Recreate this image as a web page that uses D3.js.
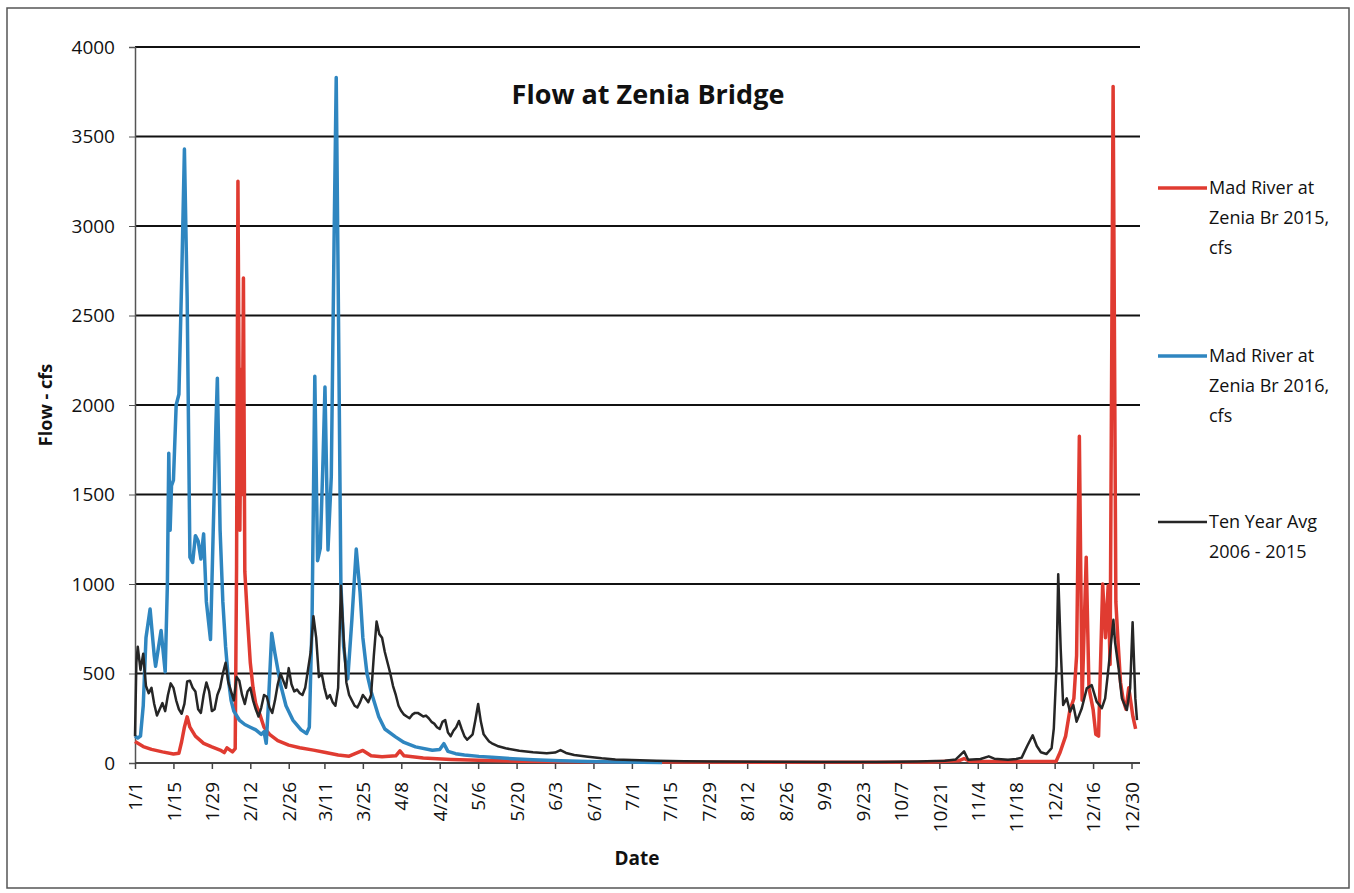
<!DOCTYPE html>
<html>
<head>
<meta charset="utf-8">
<script src="https://cdn.jsdelivr.net/npm/d3@7"></script>
<style>
body { margin: 0; background: #fff; }
text { font-family: "Open Sans", sans-serif; fill: #111; }
</style>
</head>
<body>
<svg id="chart" width="1354" height="893"></svg>
<script>
// axis labels
const tickLabels = ['1/1','1/15','1/29','2/12','2/26','3/11','3/25','4/8','4/22','5/6','5/20','6/3','6/17',
  '7/1','7/15','7/29','8/12','8/26','9/9','9/23','10/7','10/21','11/4','11/18','12/2','12/16','12/30'];
const yTicks = [0, 500, 1000, 1500, 2000, 2500, 3000, 3500, 4000];

// Mad River at Zenia Br 2015 (day of year, cfs)
const days2015 = [0,3,6,10,14,16,17,18,19,20,22,25,28,31,32.5,33.5,35.5,36.5,37,37.5,38.2,38.7,39,39.5,40,41,42,43,44,45.5,47,49,52,56,60,65,69,74,78,83,86,90,95,96.5,98,105,115,125,140,160,200,260,290,300,302,304,330,335.5,337,339,340.5,342,343,344,345,346.5,347.5,349,350,351,352.5,353.5,354.5,355.2,356.3,357.3,358,359,360,361,362,363.5,364.5];
const flow2015 = [120,92,76,62,50,55,120,200,258,200,150,110,90,72,58,85,62,80,1100,3250,1300,2200,1500,2710,1070,800,560,420,330,270,200,160,125,100,85,72,60,45,38,70,40,35,40,68,40,28,20,15,10,7,5,4,5,12,25,10,8,8,60,150,290,360,600,1825,350,1150,420,300,160,150,1000,700,990,550,3780,900,700,450,350,300,420,260,190];

// Mad River at Zenia Br 2016 (day of year, cfs)
const days2016 = [0,1,2,3,4,5.5,7,7.5,9.5,11,11.8,12.3,12.8,13.3,14,15,16,17,18,19,20,21,22,23,24,25,26,27.5,28.5,29.5,30,31,32,33,34,35,36,38,40,42,44,46,47,47.8,48.5,49.8,51,53,55,57.5,60.5,62.5,63.5,64.5,65.5,66.5,67.5,68.5,69.2,70.3,71.5,72.5,73.3,74,75,76,77.5,79,80.6,82,83,84.5,86,88.8,91,94.9,98,102.2,108.3,111,112.5,114,116.8,120,125.3,130,137.5,145,155,165,175,185,192];
const flow2016 = [150,140,150,320,700,860,600,540,740,510,1000,1730,1300,1550,1580,2000,2060,2700,3430,2600,1150,1120,1270,1240,1140,1280,900,690,1300,1900,2150,1300,900,650,470,350,290,240,215,200,185,160,175,110,300,725,610,440,320,240,185,165,200,800,2160,1130,1200,1700,2100,1190,1600,2900,3830,2700,1000,650,470,800,1195,950,700,500,400,258,190,146,115,90,71,75,108,65,52,45,37,32,24,18,12,8,5,4,3];

// Ten Year Avg 2006 - 2015 (day of year, cfs)
const daysAvg = [0,0.5,1,2,3,4,5,6,7,8,9,10,11,12,13,14,15,16,17,18,19,20,21,22,23,24,25,26,27,28,29,30,31,32,33,34,35,36,37,38,39,40,41,42,43,44,45,46,47,48,49,50,51,52,53,54,55,56,57,58,59,60,61,62,63,64,65,66,67,68,69,70,71,72,73,74,75,76,77,78,79,80,81,82,83,84,85,86,87,88,89,90,91,92,93,94,95,96,97,98,99,100,101,102,103,104,105,106,107,108,109,110,111,112,113,114,115,116,117,118,119,120,121,122,123,124,125,126,127,128,129,130,132,135,140,145,150,153,155,157,160,165,170,175,181,190,200,210,230,250,270,285,295,299,302,303.5,308,311,313,318,321,323,325,327,328.5,330,332,333.9,334.7,335.7,336.3,337.2,338.1,339.4,340.6,341.8,343,344.9,346.7,348.5,350.3,352.2,353.4,354.6,356.4,357,358.3,359.5,361.3,362.5,363.4,364.4,365];
const flowAvg = [150,560,650,520,610,430,390,420,330,265,300,335,290,380,445,420,350,300,275,330,455,460,420,400,300,280,380,450,400,290,300,380,420,500,560,450,400,350,480,460,380,330,400,420,350,300,260,310,380,370,310,280,350,440,500,460,420,530,440,400,410,390,380,420,520,620,820,700,480,500,420,360,380,340,320,420,990,700,450,380,350,320,310,340,380,360,340,380,600,790,720,700,620,560,500,430,380,320,290,270,260,250,270,280,280,270,260,265,250,230,220,200,190,230,240,170,150,180,200,235,190,150,130,145,160,240,330,230,160,140,120,110,95,82,68,60,55,58,72,56,45,35,26,20,17,13,10,8,7,6,6,8,12,20,65,18,22,37,24,18,22,30,95,155,95,60,50,83,194,546,1055,640,324,361,287,324,231,306,417,435,343,306,361,528,800,676,528,361,296,417,787,361,240];

const legendItems = [
  { lines: ['Mad River at', 'Zenia Br 2015,', 'cfs'], color: '#e03b31', width: 3.5, y: 188 },
  { lines: ['Mad River at', 'Zenia Br 2016,', 'cfs'], color: '#2f86c0', width: 3.5, y: 356 },
  { lines: ['Ten Year Avg', '2006 - 2015'], color: '#262626', width: 2.5, y: 522 }
];

const svg = d3.select('#chart');

// outer chart border
svg.append('rect')
    .attr('x', 7).attr('y', 8)
    .attr('width', 1342).attr('height', 880)
    .attr('fill', 'none')
    .attr('stroke', '#555')
    .attr('stroke-width', 1.5);

const plotLeft = 135, plotRight = 1140, plotTop = 47, plotBottom = 763;

const x = d3.scaleLinear().domain([0, 365]).range([plotLeft, 1137]);
const y = d3.scaleLinear().domain([0, 4000]).range([plotBottom, plotTop]);

// tick positions from the M/D labels
const parseDay = d3.timeParse('%m/%d/%Y');
const jan1 = parseDay('1/1/2015');
const tickDays = tickLabels.map(l => d3.timeDay.count(jan1, parseDay(l + '/2015')));

// gridlines
svg.append('g')
    .selectAll('line')
    .data(yTicks.filter(d => d > 0))
    .enter().append('line')
    .attr('x1', plotLeft).attr('x2', plotRight)
    .attr('y1', d => y(d)).attr('y2', d => y(d))
    .attr('stroke', '#111')
    .attr('stroke-width', 2);

// y axis
const yAxis = d3.axisLeft(y)
    .tickValues(yTicks)
    .tickFormat(d3.format('d'))
    .tickSize(6)
    .tickPadding(14);
const gy = svg.append('g')
    .attr('transform', 'translate(' + plotLeft + ',0)')
    .call(yAxis);
gy.select('.domain').attr('stroke', '#555').attr('stroke-width', 1.5);
gy.selectAll('.tick line').attr('stroke', '#555');
gy.selectAll('text').style('font-size', '19px').attr('fill', '#111');

// x axis
const xAxis = d3.axisBottom(x)
    .tickValues(tickDays)
    .tickFormat((d, i) => tickLabels[i])
    .tickSize(6)
    .tickSizeOuter(0);
const gx = svg.append('g')
    .attr('transform', 'translate(0,' + plotBottom + ')')
    .call(xAxis);
gx.select('.domain').attr('d', 'M' + plotLeft + ',0H' + plotRight).attr('stroke', '#444').attr('stroke-width', 2);
gx.selectAll('.tick line').attr('stroke', '#444').attr('stroke-width', 1.5);
gx.selectAll('text')
    .style('font-size', '19px')
    .attr('fill', '#111')
    .attr('text-anchor', 'end')
    .attr('transform', 'rotate(-90)')
    .attr('x', -19)
    .attr('y', 0)
    .attr('dy', '0.35em');

// series lines
const line = d3.line()
    .x(d => x(d[0]))
    .y(d => y(d[1]));

const series = [
  { days: days2015, flow: flow2015, color: '#e03b31', width: 3.5 },
  { days: days2016, flow: flow2016, color: '#2f86c0', width: 3.5 },
  { days: daysAvg, flow: flowAvg, color: '#262626', width: 2.5 }
];

svg.append('g')
    .selectAll('path')
    .data(series)
    .enter().append('path')
    .attr('d', s => line(s.days.map((d, i) => [d, s.flow[i]])))
    .attr('fill', 'none')
    .attr('stroke', s => s.color)
    .attr('stroke-width', s => s.width)
    .attr('stroke-linejoin', 'round');

// title
svg.append('text')
    .attr('x', 648).attr('y', 104)
    .attr('text-anchor', 'middle')
    .style('font-size', '27px')
    .style('font-weight', 'bold')
    .attr('fill', '#333')
    .text('Flow at Zenia Bridge');

// axis titles
svg.append('text')
    .attr('transform', 'translate(52,405) rotate(-90)')
    .attr('text-anchor', 'middle')
    .style('font-size', '18px')
    .style('font-weight', 'bold')
    .text('Flow - cfs');

svg.append('text')
    .attr('x', 637).attr('y', 865)
    .attr('text-anchor', 'middle')
    .style('font-size', '19px')
    .style('font-weight', 'bold')
    .text('Date');

// legend
const legend = svg.append('g')
    .selectAll('g')
    .data(legendItems)
    .enter().append('g')
    .attr('transform', d => 'translate(1158,' + d.y + ')');

legend.append('line')
    .attr('x1', 0).attr('x2', 49)
    .attr('stroke', d => d.color)
    .attr('stroke-width', d => d.width);

legend.selectAll('text')
    .data(d => d.lines)
    .enter().append('text')
    .attr('x', 51)
    .attr('y', (d, i) => i * 30)
    .attr('dy', '0.35em')
    .style('font-size', '18px')
    .text(d => d);
</script>
</body>
</html>
